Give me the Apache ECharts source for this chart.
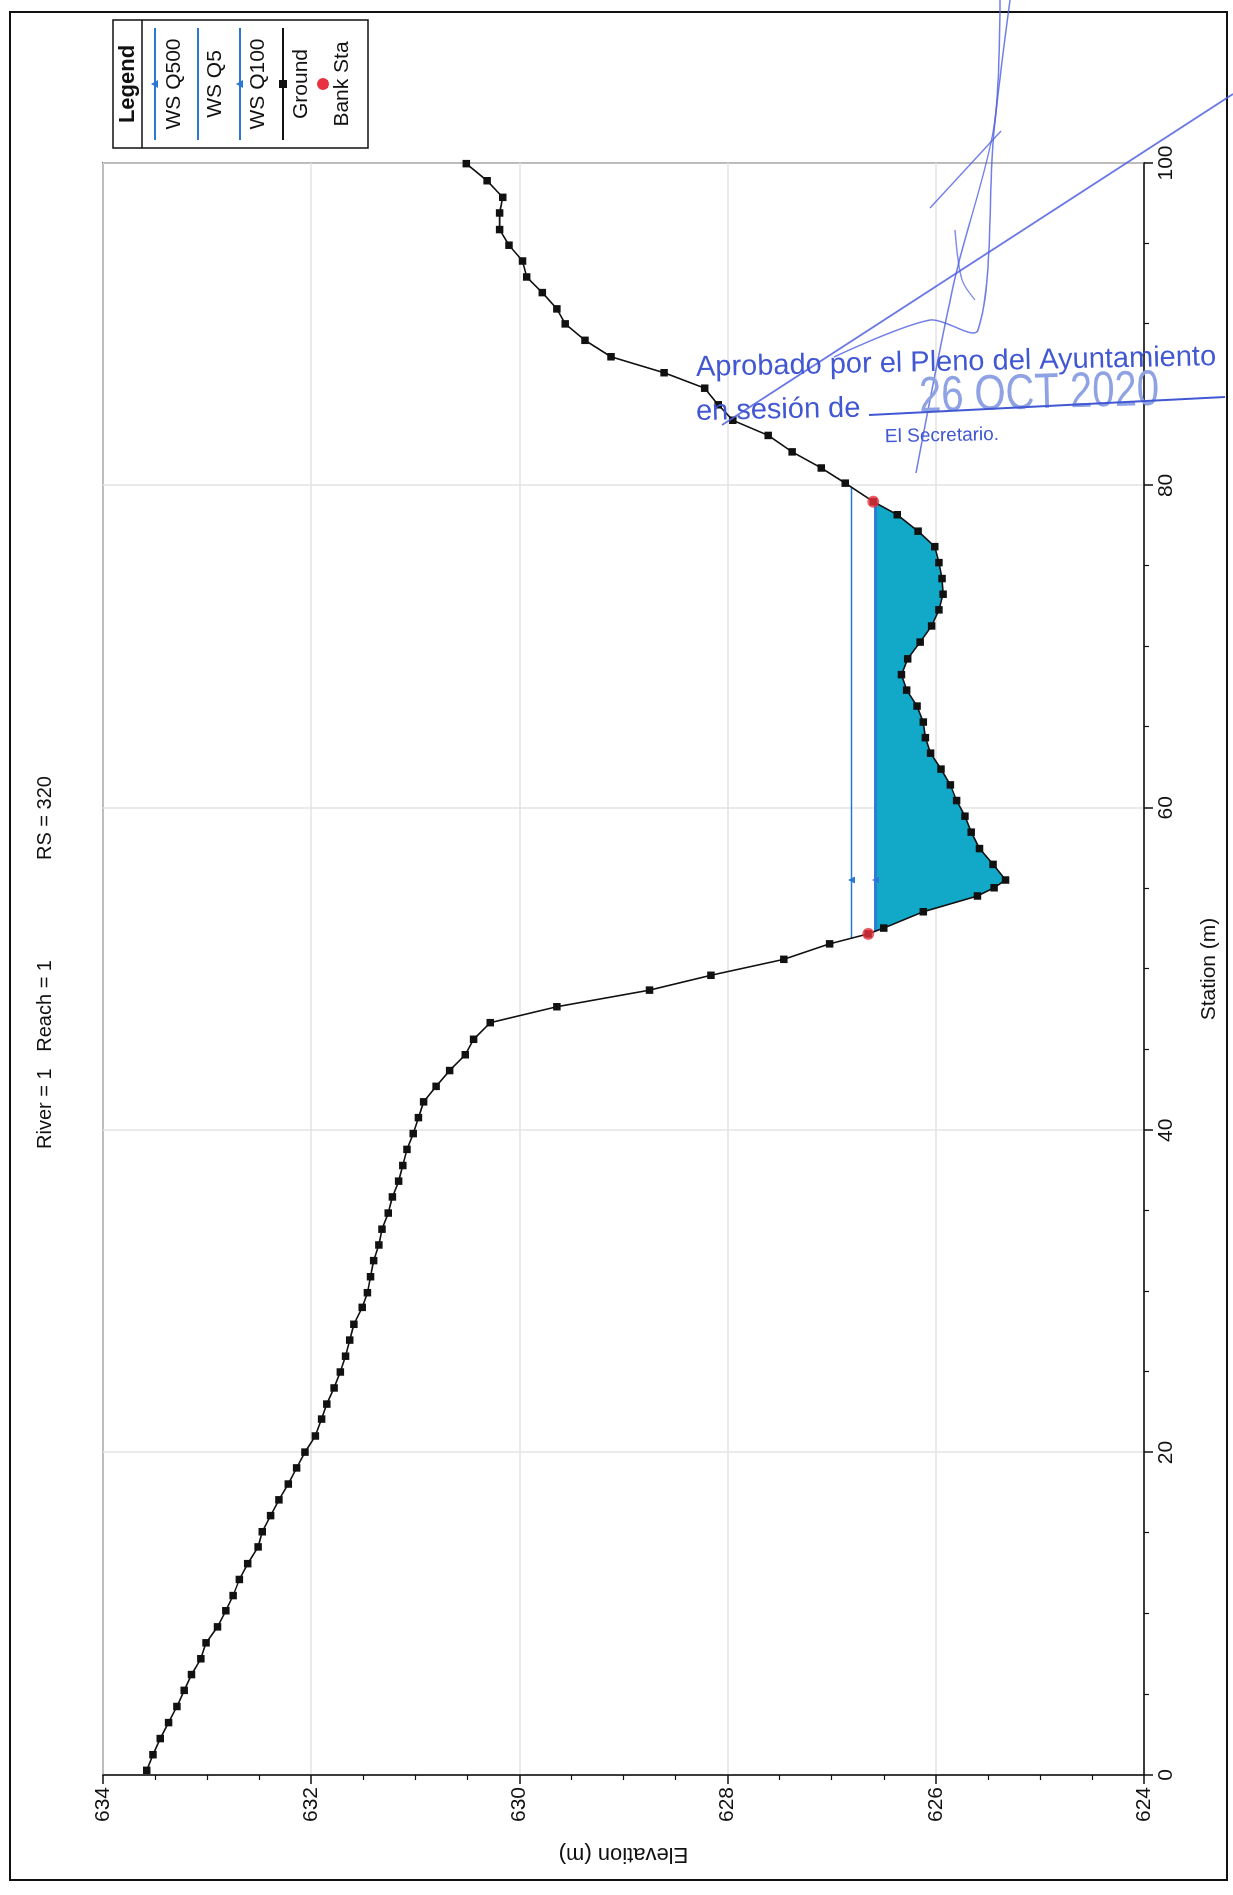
<!DOCTYPE html>
<html>
<head>
<meta charset="utf-8">
<script src="https://cdn.jsdelivr.net/npm/echarts@6/dist/echarts.min.js"></script>
<style>
html, body { margin: 0; padding: 0; background: #fff; overflow: hidden; width: 1233px; height: 1895px; }
#chart { position: absolute; left: 0; top: 0; width: 1895px; height: 1233px;
  transform-origin: 0 0; transform: translateY(1895px) rotate(-90deg); background: #fff; }
</style>
</head>
<body>
<div id="chart"></div>
<script>
// ---------------- data ----------------
const stations = [
  0.29, 1.26, 2.26, 3.25, 4.25, 5.25, 6.23, 7.21, 8.20, 9.19,
  10.19, 11.13, 12.13, 13.11, 14.15, 15.09, 16.09, 17.07, 18.05, 19.05,
  20.03, 21.03, 22.08, 23.01, 24.01, 25.00, 25.98, 26.98, 27.96, 29.01,
  29.92, 30.91, 31.91, 32.88, 33.86, 34.86, 35.86, 36.84, 37.81, 38.81,
  39.79, 40.78, 41.76, 42.72, 43.70, 44.68, 45.64, 46.67, 47.66, 48.69,
  49.61, 50.60, 51.56, 52.18, 52.54, 53.55, 54.53, 55.04, 55.52, 56.49,
  57.47, 58.49, 59.48, 60.45, 61.42, 62.40, 63.39, 64.35, 65.32, 66.31,
  67.30, 68.26, 69.24, 70.28, 71.28, 72.28, 73.25, 74.22, 75.21, 76.20,
  77.16, 78.18, 78.99, 80.14, 81.08, 82.08, 83.10, 84.04, 85.00, 86.03,
  86.99, 87.98, 89.00, 90.02, 90.95, 91.96, 92.93, 93.92, 94.90, 95.87,
  96.90, 97.87, 98.90, 99.96
];
const elevations = [
  633.58, 633.52, 633.45, 633.37, 633.29, 633.22, 633.15, 633.06, 633.01, 632.90,
  632.82, 632.75, 632.69, 632.61, 632.51, 632.47, 632.39, 632.31, 632.22, 632.14,
  632.06, 631.96, 631.90, 631.85, 631.78, 631.72, 631.67, 631.63, 631.59, 631.51,
  631.46, 631.43, 631.40, 631.35, 631.32, 631.26, 631.22, 631.16, 631.12, 631.08,
  631.02, 630.97, 630.92, 630.80, 630.67, 630.52, 630.44, 630.28, 629.64, 628.75,
  628.16, 627.46, 627.02, 626.65, 626.50, 626.12, 625.60, 625.44, 625.33, 625.45,
  625.58, 625.66, 625.72, 625.80, 625.86, 625.95, 626.05, 626.10, 626.12, 626.18,
  626.28, 626.33, 626.27, 626.15, 626.04, 625.97, 625.93, 625.94, 625.97, 626.01,
  626.17, 626.37, 626.60, 626.87, 627.10, 627.38, 627.61, 627.95, 628.09, 628.22,
  628.61, 629.12, 629.37, 629.56, 629.64, 629.78, 629.93, 629.97, 630.10, 630.19,
  630.19, 630.16, 630.31, 630.51
];
const bankStations = [52.18, 78.99];
const wsNames  = ['WS Q500', 'WS Q5', 'WS Q100'];
const wsLevels = [626.81, 626.58, 626.58];
const stationTicks   = [0, 20, 40, 60, 80, 100];
const elevationTicks = [624, 626, 628, 630, 632, 634];
const titleParts = ['River = 1', 'Reach = 1', 'RS = 320'];

// ---------------- helpers ----------------
const ground = stations.map((s, i) => [s, elevations[i]]);
const banks = bankStations.map(s => [s, elevations[stations.indexOf(s)]]);
let iMin = 0;
elevations.forEach((e, i) => { if (e < elevations[iMin]) iMin = i; });

function wsExtent(level) {
  let i = iMin;
  while (i > 0 && elevations[i - 1] < level) i--;
  const a = i - 1, b = i;
  const sl = stations[a] + (elevations[a] - level) / (elevations[a] - elevations[b]) * (stations[b] - stations[a]);
  let j = iMin;
  while (j < stations.length - 1 && elevations[j + 1] < level) j++;
  const c = j, d = j + 1;
  const sr = stations[c] + (level - elevations[c]) / (elevations[d] - elevations[c]) * (stations[d] - stations[c]);
  return { sl, sr, i, j };
}

const WS_BLUE = '#2a78d4';
const FILL = '#12a8c8';
const FONT = 'Liberation Sans, Arial, Helvetica, sans-serif';

const fillExt = wsExtent(wsLevels[1]);

const wsSeries = wsNames.map((name, k) => {
  const lv = wsLevels[k];
  const ex = wsExtent(lv);
  const marked = name !== 'WS Q5';
  return {
    name, type: 'line', z: 4,
    data: [
      { value: [ex.sl, lv], symbol: 'none' },
      { value: [stations[iMin], lv], symbol: marked ? 'triangle' : 'none' },
      { value: [ex.sr, lv], symbol: 'none' }
    ],
    symbolSize: 7,
    itemStyle: { color: WS_BLUE },
    lineStyle: { color: WS_BLUE, width: k === 0 ? 1.5 : 2.2 },
    silent: true, animation: false
  };
});

// ---------------- graphics: legend, frame, stamp ----------------
const W = 1895;
// portrait picture coordinates (X right, Y down) -> landscape canvas
function land(X, Y) { return [W - Y, X]; }
const ROT = -Math.PI / 2;

const LX = 1747, LY = 113, LW = 128, LH = 255, LC = LX + LW / 2;
const legendRows = [
  { label: 'WS Q500', lineY: 155, textY: 174, color: WS_BLUE, marker: 'tri' },
  { label: 'WS Q5',   lineY: 198, textY: 215, color: WS_BLUE, marker: null },
  { label: 'WS Q100', lineY: 240, textY: 258, color: WS_BLUE, marker: 'tri' },
  { label: 'Ground',  lineY: 283, textY: 301, color: '#111',  marker: 'rect' },
  { label: 'Bank Sta', lineY: 323, textY: 342, color: '#e8323f', marker: 'dot' }
];
const legendEls = [
  { type: 'rect', shape: { x: LX, y: LY, width: LW, height: LH }, style: { fill: '#fff', stroke: '#111', lineWidth: 1.5 } },
  { type: 'text', x: LC, y: 128, style: { text: 'Legend', font: 'bold 22px ' + FONT, fill: '#111', align: 'center', verticalAlign: 'middle' } },
  { type: 'line', shape: { x1: LX, y1: 142, x2: LX + LW, y2: 142 }, style: { stroke: '#111', lineWidth: 1.5 } }
];
legendRows.forEach(r => {
  if (r.marker !== 'dot') {
    legendEls.push({ type: 'line', shape: { x1: LX + 8, y1: r.lineY, x2: LX + LW - 8, y2: r.lineY }, style: { stroke: r.color, lineWidth: 2 } });
  }
  if (r.marker === 'tri') {
    legendEls.push({ type: 'polygon', shape: { points: [[LC, r.lineY - 4], [LC - 4, r.lineY + 3], [LC + 4, r.lineY + 3]] }, style: { fill: r.color } });
  } else if (r.marker === 'rect') {
    legendEls.push({ type: 'rect', shape: { x: LC - 4, y: r.lineY - 4, width: 8, height: 8 }, style: { fill: r.color } });
  } else if (r.marker === 'dot') {
    legendEls.push({ type: 'circle', shape: { cx: LC, cy: r.lineY, r: 6 }, style: { fill: r.color } });
  }
  legendEls.push({ type: 'text', x: LC, y: r.textY, style: { text: r.label, font: '21px ' + FONT, fill: '#111', align: 'center', verticalAlign: 'middle' } });
});

const STAMP = '#4257d2';
function stampText(text, X, Y, font, color, tilt, scaleX) {
  const p = land(X, Y);
  return { type: 'text', x: p[0], y: p[1], rotation: ROT + tilt, scaleX: scaleX || 1,
    style: { text, font, fill: color, align: 'left', verticalAlign: 'middle' }, z: 100 };
}
function stroke(pointsXY, width, opacity) {
  return { type: 'polyline', shape: { points: pointsXY.map(p => land(p[0], p[1])), smooth: 0.3 },
    style: { stroke: '#4f5fe0', lineWidth: width, opacity: opacity, fill: null }, z: 99 };
}
const u1 = land(869, 415), u2 = land(1225, 397);
const stampEls = [
  stampText('Aprobado por el Pleno del Ayuntamiento', 696, 368, '29px ' + FONT, STAMP, 0.021),
  stampText('en sesión de', 696, 412, '29px ' + FONT, STAMP, 0.021),
  stampText('26 OCT 2020', 919, 398, '50px ' + FONT, '#8ea2e4', 0.03, 0.8),
  stampText('El Secretario.', 885, 437, '19px ' + FONT, STAMP, 0.02),
  { type: 'line', shape: { x1: u1[0], y1: u1[1], x2: u2[0], y2: u2[1] }, style: { stroke: STAMP, lineWidth: 2 }, z: 100 },
  // signature pen strokes
  stroke([[722, 425], [1233, 94]], 1.8, 0.85),
  stroke([[930, 208], [1001, 131]], 1.5, 0.8),
  stroke([[1000, 0], [994, 127], [955, 278], [916, 473]], 1.5, 0.8),
  stroke([[834, 357], [930, 320], [978, 330], [994, 131], [1010, 0]], 1.5, 0.8),
  stroke([[955, 230], [962, 280], [975, 300]], 1.3, 0.7)
];

// ---------------- chart ----------------
const chart = echarts.init(document.getElementById('chart'), null, { renderer: 'canvas' });
chart.setOption({
  animation: false,
  backgroundColor: '#fff',
  title: {
    text: titleParts[0] + '   ' + titleParts[1] + ' '.repeat(18) + titleParts[2],
    left: 741, top: 30,
    textStyle: { fontFamily: FONT, fontSize: 20, fontWeight: 'normal', color: '#111' }
  },
  grid: { left: 120, right: 163, top: 103, bottom: 89, show: true, borderColor: '#111', borderWidth: 1.5, backgroundColor: 'transparent' },
  xAxis: {
    type: 'value', min: stationTicks[0], max: stationTicks[stationTicks.length - 1], interval: stationTicks[1] - stationTicks[0],
    name: 'Station (m)', nameLocation: 'middle', nameGap: 55,
    nameTextStyle: { fontFamily: FONT, fontSize: 21, color: '#111' },
    axisLine: { onZero: false, lineStyle: { color: '#111', width: 1.5 } },
    axisTick: { show: true, length: 9, lineStyle: { color: '#111', width: 1.5 } },
    minorTick: { show: true, splitNumber: 4, length: 5, lineStyle: { color: '#111', width: 1.2 } },
    splitLine: { show: true, lineStyle: { color: '#e3e3e3', width: 1.5 } },
    axisLabel: { fontFamily: FONT, fontSize: 21, color: '#111', margin: 12 }
  },
  yAxis: {
    type: 'value', min: elevationTicks[0], max: elevationTicks[elevationTicks.length - 1], interval: elevationTicks[1] - elevationTicks[0],
    name: 'Elevation (m)', nameLocation: 'middle', nameGap: 68, nameRotate: 90,
    nameTextStyle: { fontFamily: FONT, fontSize: 22, color: '#111' },
    axisLine: { show: true, onZero: false, lineStyle: { color: '#111', width: 1.5 } },
    axisTick: { show: true, length: 9, lineStyle: { color: '#111', width: 1.5 } },
    minorTick: { show: true, splitNumber: 4, length: 5, lineStyle: { color: '#111', width: 1.2 } },
    splitLine: { show: true, lineStyle: { color: '#e3e3e3', width: 1.5 } },
    axisLabel: { fontFamily: FONT, fontSize: 21, color: '#111', margin: 12 }
  },
  series: [
    {
      name: 'water', type: 'custom', z: 2, silent: true,
      data: [[stations[iMin], wsLevels[1]]],
      renderItem: function (params, api) {
        const pts = [api.coord([fillExt.sl, wsLevels[1]])];
        for (let k = fillExt.i; k <= fillExt.j; k++) pts.push(api.coord([stations[k], elevations[k]]));
        pts.push(api.coord([fillExt.sr, wsLevels[1]]));
        return { type: 'polygon', shape: { points: pts }, style: { fill: FILL, stroke: null } };
      }
    },
    ...wsSeries,
    {
      name: 'Ground', type: 'line', z: 5, data: ground,
      symbol: 'rect', symbolSize: 7.5, showAllSymbol: true,
      itemStyle: { color: '#111' }, lineStyle: { color: '#111', width: 1.6 }, silent: true
    },
    {
      name: 'Bank Sta', type: 'scatter', z: 6, data: banks,
      symbol: 'circle', symbolSize: 12, itemStyle: { color: '#e8323f' }, silent: true
    }
  ],
  graphic: [
    { type: 'rect', shape: { x: 15, y: 10, width: 1868, height: 1217 }, style: { fill: 'none', stroke: '#111', lineWidth: 2 }, silent: true },
    { type: 'group', children: legendEls, silent: true },
    { type: 'group', children: stampEls, silent: true }
  ]
});
</script>
</body>
</html>
